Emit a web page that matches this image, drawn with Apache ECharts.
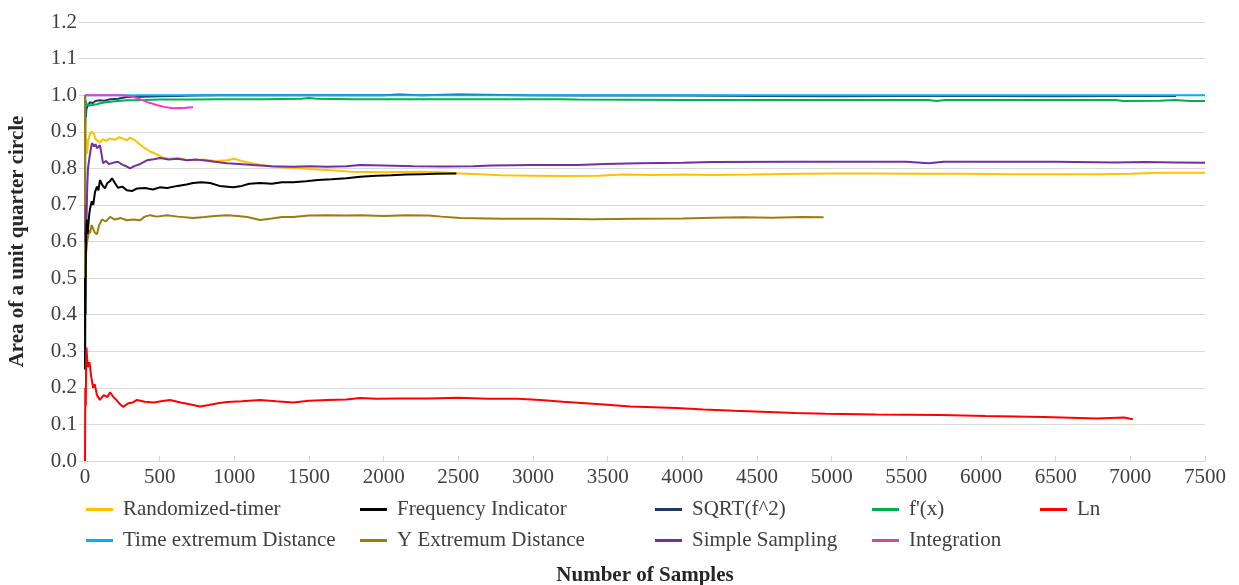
<!DOCTYPE html>
<html>
<head>
<meta charset="utf-8">
<script src="https://cdn.jsdelivr.net/npm/echarts@6/dist/echarts.min.js"></script>
<style>html,body{margin:0;padding:0;background:#fff;}#chart{width:1239px;height:585px;}</style>
</head>
<body>
<div id="chart"></div>
<script>
// ---- data ----
const seriesNames = ["Randomized-timer","Frequency Indicator","SQRT(f^2)","f'(x)","Ln","Time extremum Distance","Y Extremum Distance","Simple Sampling","Integration"];

const randomizedTimer = [[0,1.0],[1,0.83],[3,0.95],[6,0.86],[10,0.88],[15,0.84],[20,0.87],[30,0.89],[40,0.9],[50,0.905],[60,0.895],[70,0.88],[85,0.875],[100,0.87],[120,0.88],[140,0.875],[168,0.882],[200,0.878],[230,0.885],[260,0.88],[281,0.876],[300,0.884],[330,0.878],[360,0.868],[400,0.855],[436,0.846],[480,0.838],[520,0.83],[560,0.826],[620,0.828],[680,0.823],[740,0.822],[800,0.824],[870,0.82],[950,0.822],[1000,0.826],[1050,0.82],[1100,0.815],[1170,0.81],[1250,0.805],[1330,0.802],[1440,0.8],[1550,0.797],[1650,0.795],[1776,0.791],[1900,0.79],[2000,0.789],[2111,0.79],[2250,0.791],[2380,0.789],[2513,0.786],[2650,0.784],[2780,0.781],[3000,0.78],[3200,0.779],[3440,0.78],[3600,0.783],[3800,0.782],[4000,0.783],[4200,0.782],[4457,0.783],[4800,0.785],[5000,0.786],[5300,0.786],[5600,0.785],[5900,0.785],[6200,0.784],[6500,0.784],[6800,0.784],[7000,0.785],[7200,0.788],[7500,0.788]];

const frequencyIndicator = [[0,0.5],[1,0.25],[2,0.5],[4,0.4],[6,0.55],[8,0.62],[10,0.64],[13,0.66],[16,0.62],[20,0.63],[25,0.66],[30,0.68],[34,0.69],[45,0.71],[55,0.7],[67,0.735],[80,0.75],[90,0.74],[100,0.768],[115,0.755],[134,0.745],[150,0.76],[168,0.765],[181,0.773],[200,0.76],[221,0.747],[250,0.75],[280,0.74],[315,0.738],[350,0.745],[402,0.746],[456,0.742],[500,0.748],[550,0.746],[620,0.752],[680,0.756],[724,0.76],[780,0.762],[838,0.76],[900,0.752],[992,0.748],[1050,0.752],[1100,0.758],[1173,0.76],[1250,0.758],[1320,0.762],[1394,0.762],[1480,0.765],[1560,0.768],[1650,0.77],[1750,0.773],[1843,0.777],[1950,0.78],[2050,0.781],[2150,0.783],[2250,0.784],[2350,0.785],[2487,0.786]];

const sqrtF2 = [[0,1.0],[1,0.92],[3,0.95],[6,0.94],[9,0.96],[13,0.967],[20,0.972],[34,0.981],[50,0.978],[70,0.984],[100,0.986],[130,0.985],[168,0.989],[220,0.99],[281,0.995],[392,0.996],[503,0.997],[620,0.998],[727,0.999],[905,1.0],[1200,1.0],[2000,1.0],[2100,1.002],[2250,1.0],[2500,1.002],[2950,1.0],[3300,0.999],[4000,0.999],[4500,0.998],[5000,0.997],[5500,0.998],[6000,0.998],[6500,0.997],[7000,0.998],[7306,0.998]];

const fPrime = [[0,1.0],[2,0.97],[5,0.985],[10,0.975],[20,0.98],[30,0.972],[47,0.973],[60,0.978],[80,0.975],[100,0.978],[130,0.98],[168,0.982],[220,0.984],[281,0.986],[400,0.987],[503,0.988],[700,0.988],[900,0.989],[1200,0.989],[1450,0.99],[1500,0.992],[1550,0.99],[1800,0.989],[2500,0.989],[3200,0.989],[3300,0.988],[4000,0.987],[5000,0.987],[5650,0.987],[5700,0.984],[5760,0.987],[6000,0.987],[6900,0.987],[6950,0.984],[7200,0.985],[7300,0.987],[7400,0.984],[7500,0.984]];

const ln = [[0,0],[2,0.2],[5,0.15],[8,0.28],[10,0.31],[14,0.28],[20,0.257],[30,0.27],[40,0.235],[47,0.24],[54,0.2],[65,0.21],[80,0.18],[100,0.167],[125,0.18],[150,0.175],[168,0.188],[190,0.175],[210,0.167],[235,0.155],[255,0.148],[290,0.158],[320,0.16],[348,0.167],[400,0.162],[460,0.16],[520,0.164],[570,0.167],[640,0.16],[700,0.155],[770,0.149],[830,0.153],[890,0.158],[950,0.161],[1050,0.163],[1173,0.167],[1280,0.163],[1394,0.16],[1500,0.165],[1622,0.167],[1750,0.168],[1843,0.172],[1950,0.17],[2100,0.171],[2300,0.171],[2500,0.173],[2700,0.17],[2900,0.17],[3050,0.167],[3200,0.162],[3350,0.158],[3450,0.155],[3653,0.149],[3960,0.145],[4142,0.141],[4349,0.1375],[4578,0.134],[4759,0.131],[4960,0.129],[5295,0.127],[5730,0.126],[6032,0.123],[6421,0.12],[6776,0.116],[6957,0.119],[7017,0.114]];

const timeExtremum = [[0,0.25],[1,0.5],[2,1.0],[300,1.0],[320,0.999],[350,1.0],[1500,1.0],[3000,1.0],[4500,1.0],[6000,1.0],[7500,1.0]];

const yExtremum = [[0,1.0],[1,0.5],[2,0.67],[3,0.55],[5,0.6],[8,0.57],[13,0.595],[20,0.6],[27,0.63],[34,0.623],[45,0.645],[54,0.64],[65,0.625],[80,0.62],[95,0.645],[114,0.66],[140,0.655],[168,0.667],[200,0.66],[240,0.664],[281,0.658],[320,0.66],[369,0.658],[400,0.668],[436,0.672],[480,0.668],[550,0.672],[620,0.668],[724,0.664],[800,0.667],[870,0.67],[950,0.672],[1020,0.67],[1086,0.667],[1173,0.659],[1250,0.663],[1320,0.667],[1394,0.667],[1500,0.671],[1622,0.672],[1750,0.671],[1843,0.672],[2000,0.67],[2150,0.672],[2300,0.671],[2386,0.668],[2513,0.664],[2800,0.662],[3100,0.662],[3400,0.661],[3700,0.662],[4000,0.663],[4202,0.665],[4400,0.666],[4600,0.665],[4800,0.667],[4946,0.666]];

const simpleSampling = [[1,0.6],[3,0.63],[6,0.7],[10,0.66],[15,0.75],[20,0.8],[30,0.83],[40,0.855],[47,0.869],[60,0.86],[70,0.866],[80,0.855],[100,0.863],[110,0.84],[121,0.814],[140,0.82],[160,0.812],[188,0.815],[220,0.818],[250,0.81],[280,0.805],[302,0.8],[330,0.806],[370,0.812],[415,0.822],[460,0.825],[503,0.828],[560,0.824],[620,0.826],[684,0.822],[740,0.824],[791,0.822],[870,0.818],[950,0.814],[1030,0.812],[1126,0.809],[1250,0.806],[1394,0.804],[1500,0.806],[1622,0.804],[1750,0.806],[1843,0.809],[2000,0.808],[2200,0.806],[2400,0.805],[2600,0.806],[2720,0.808],[3000,0.809],[3300,0.809],[3480,0.812],[3710,0.814],[4000,0.815],[4200,0.817],[4740,0.818],[5200,0.818],[5500,0.818],[5650,0.814],[5750,0.818],[6000,0.818],[6500,0.818],[6900,0.816],[7100,0.817],[7300,0.816],[7500,0.815]];

const integration = [[0,1.0],[100,1.0],[200,1.0],[255,1.0],[300,0.997],[348,0.992],[380,0.987],[415,0.981],[450,0.977],[480,0.973],[530,0.968],[590,0.964],[630,0.965],[657,0.964],[690,0.966],[724,0.967]];

const seriesData = [randomizedTimer, frequencyIndicator, sqrtF2, fPrime, ln, timeExtremum, yExtremum, simpleSampling, integration];

// ---- styles ----
const lineColors = ['#FFC000','#000000','#1F3864','#00B050','#FF0000','#00B0F0','#9E7B0F','#7030A0','#F23CC6'];
const legendColors = ['#FFC000','#000000','#1F3864','#00B050','#FF0000','#00B0F0','#9E7B0F','#7030A0','#C0529E'];
const seriesZ = [2, 3, 2, 2, 4, 2, 2, 2, 5];
const FONT = '"Liberation Serif", "Times New Roman", serif';
const legendPos = [[86,499],[360,499],[655,499],[872,499],[1040,499],[86,530],[360,530],[655,530],[872,530]];

const chart = echarts.init(document.getElementById('chart'), null, {renderer:'canvas'});
chart.setOption({
  animation: false,
  backgroundColor: '#ffffff',
  grid: {left: 85, right: 34, top: 22, bottom: 124, containLabel: false, outerBoundsMode: 'none'},
  legend: seriesNames.map((n, i) => ({
    data: [{name: n, itemStyle: {color: legendColors[i]}, lineStyle: {color: legendColors[i]}}],
    left: legendPos[i][0], top: legendPos[i][1],
    icon: 'rect', itemWidth: 27, itemHeight: 3, padding: 0,
    textStyle: {fontFamily: FONT, fontSize: 21, color: '#404040', padding: [0,0,0,5]},
    selectedMode: false
  })),
  xAxis: {
    type: 'value', min: 0, max: 7500, interval: 500,
    name: 'Number of Samples', nameLocation: 'middle', nameGap: 104,
    nameTextStyle: {fontFamily: FONT, fontSize: 21, fontWeight: 'bold', color: '#262626'},
    axisLine: {show: true, lineStyle: {color: '#d9d9d9', width: 1}},
    axisTick: {show: true, inside: true, length: 5, lineStyle: {color: '#d9d9d9'}},
    axisLabel: {fontFamily: FONT, fontSize: 21, color: '#404040', margin: 6, formatter: v => String(v)},
    splitLine: {show: false}
  },
  yAxis: {
    type: 'value', min: 0, max: 1.2, interval: 0.1,
    name: 'Area of a unit quarter circle', nameLocation: 'middle', nameGap: 57,
    nameTextStyle: {fontFamily: FONT, fontSize: 21, fontWeight: 'bold', color: '#262626'},
    axisLine: {show: false},
    axisTick: {show: true, length: 6, lineStyle: {color: '#d9d9d9'}},
    axisLabel: {fontFamily: FONT, fontSize: 21, color: '#404040', margin: 8, formatter: v => v.toFixed(1)},
    splitLine: {show: true, lineStyle: {color: '#d9d9d9', width: 1}}
  },
  series: seriesNames.map((n, i) => ({
    name: n, type: 'line', data: seriesData[i], symbol: 'none', showSymbol: false, z: seriesZ[i],
    lineStyle: {color: lineColors[i], width: 2}, itemStyle: {color: lineColors[i]},
    emphasis: {disabled: true}
  }))
});
</script>
</body>
</html>
